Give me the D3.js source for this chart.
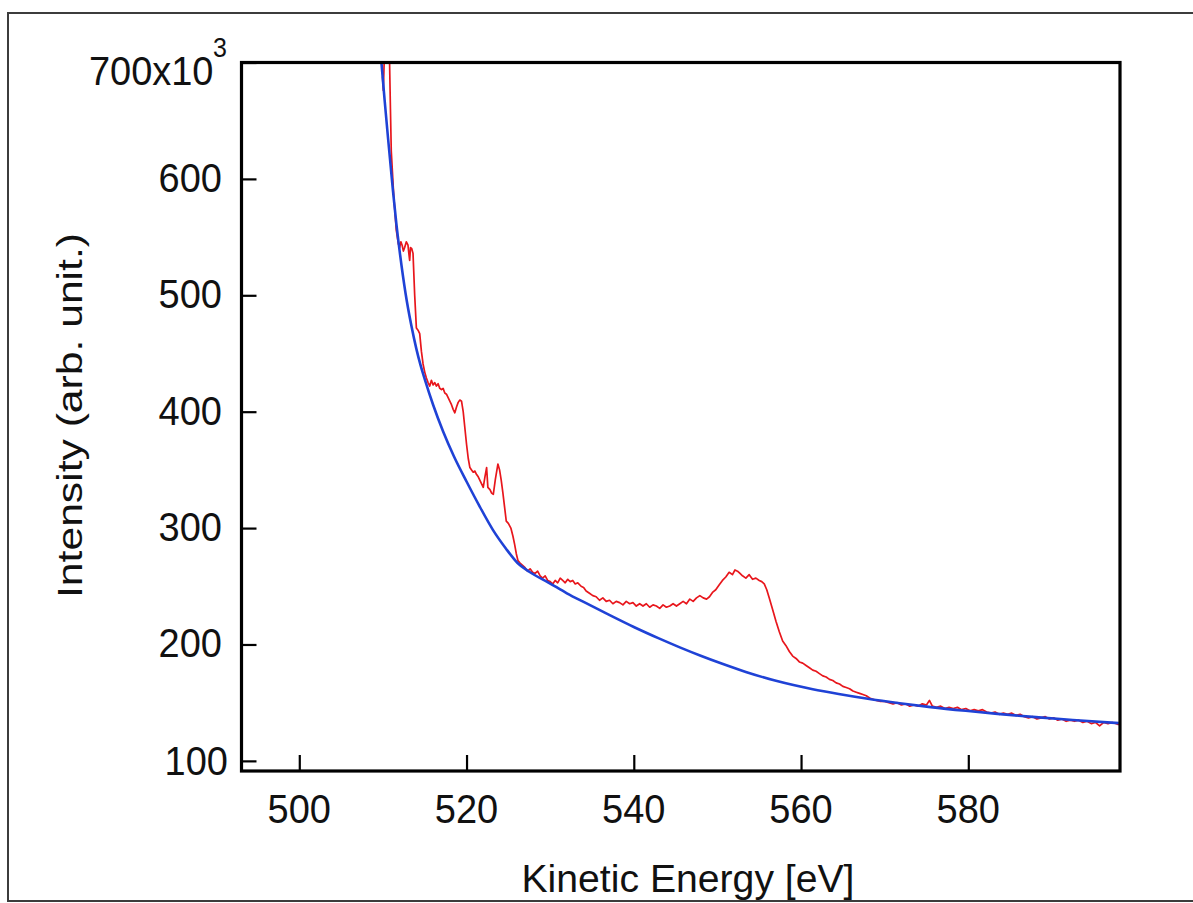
<!DOCTYPE html>
<html><head><meta charset="utf-8">
<script src="https://cdn.jsdelivr.net/npm/d3@7"></script>
<style>body{margin:0;background:#fff;} svg{display:block;}</style>
</head><body>
<svg id="chart" width="1193" height="903"></svg>
<script>
// ---- data (intensity in units of 10^3) ----
const energyMeasured = [
509.95,510.05,510.15,510.3,510.45,510.6,510.8,510.9,511.0,511.3,511.6,511.85,512.0,512.15,512.3,512.45,512.6,512.8,513.0,513.1,
513.2,513.3,513.45,513.6,513.8,514.0,514.2,514.4,514.6,514.8,515.0,515.2,515.4,515.6,515.8,516.0,516.2,516.4,516.6,516.8,
517.0,517.2,517.4,517.6,517.8,518.0,518.2,518.4,518.6,518.8,519.0,519.2,519.4,519.6,519.8,520.0,520.2,520.4,520.6,520.8,
521.0,521.2,521.4,521.6,521.8,522.0,522.2,522.4,522.55,522.8,523.0,523.2,523.45,523.75,523.95,524.15,524.35,524.55,524.75,525.0,
525.3,525.55,525.75,525.95,526.15,526.4,526.7,527.0,527.3,527.6,527.9,528.2,528.5,528.8,529.1,529.4,529.7,530.0,530.3,530.6,
530.9,531.2,531.5,531.8,532.1,532.4,532.7,533.0,533.3,533.7,534.0,534.3,534.7,535.1,535.5,535.9,536.3,536.7,537.1,537.5,
537.9,538.3,538.7,539.1,539.5,539.9,540.3,540.7,541.1,541.5,541.9,542.3,542.7,543.1,543.5,543.9,544.3,544.7,545.1,545.5,
545.9,546.3,546.7,547.1,547.5,547.9,548.3,548.7,549.05,549.45,549.8,550.2,550.6,551.0,551.4,551.8,552.1,552.4,552.7,553.0,
553.4,553.8,554.2,554.6,555.0,555.3,555.6,555.9,556.2,556.6,557.0,557.4,557.8,558.2,558.6,559.0,559.4,559.8,560.2,560.6,
561.0,561.4,561.8,562.2,562.6,563.0,563.4,563.8,564.2,564.6,565.0,565.4,565.8,566.2,566.6,567.0,567.4,567.8,568.2,568.6,
569.0,569.5,570.0,570.5,571.0,571.5,572.0,572.5,573.0,573.5,574.0,574.5,575.0,575.35,575.7,576.2,576.7,577.2,577.7,578.2,
578.7,579.2,579.7,580.2,580.7,581.2,581.7,582.2,582.7,583.2,583.7,584.2,584.7,585.2,585.7,586.2,586.7,587.2,587.7,588.2,
588.7,589.2,589.7,590.2,590.7,591.2,591.7,592.2,592.7,593.2,593.7,594.2,594.7,595.2,595.7,596.2,596.7,597.2,597.7,598.0
];
const intensityMeasured = [
688,676,700,715,702,712,699,660,624,585,556,544,541,546,543,538,541,546,543,536,
530,541,540,536,500,472,470,467,452,441,434,429,425,422,427,423,425,422,424,420,
419,420,416,415,412,409,406,402,399,404,408,410,409,400,386,372,360,352,350,348,
349,346,344,341,338,335,344,352,335,333,330,329,342,355,350,341,330,318,306,304,
300,293,286,278,272,270,268,266,263,265,262,261,263,259,257,259,255,254,252,255,
253,257,255,253,256,254,255,252,253,250,249,246,244,242,241,238,240,237,238,235,
237,236,234,237,235,236,233,235,233,235,232,234,233,231,234,232,233,235,233,235,
237,235,239,237,240,242,240,239,241,245,247,251,255,258,262,260,264,263,261,259,
257,260,256,257,255,254,252,247,240,230,220,211,203,199,194,190,188,185,184,182,
180,178,177,175,173,172,170,169,167,166,164,163,162,160,159,158,157,156,154,153,
152,151,151,150,149,150,148,149,147,148,147,149,148,152,147,146,147,145,146,145,
146,144,145,143,144,143,144,142,141,142,140,141,140,141,139,140,138,137,138,136,
137,138,136,137,135,136,134,135,134,135,133,134,132,133,130,133,132,133,132,131
];
const energyBackground = [
509.75,510.2,510.6,511.2,511.6,512.0,512.7,513.4,514.0,514.5,515.0,516.0,517.2,518.5,520.0,521.5,523.15,524.7,526.1,
527.5,529.9,532.0,534.3,537.0,540.0,543.0,545.5,548.0,550.5,553.4,557.0,561.4,564.5,567.8,571.8,575.5,579.7,583.5,587.7,592.5,598.0
];
const intensityBackground = [
706,668,636,590,562,538,502,474,454,440,428,406,383,361.5,340,319.5,298.5,282.5,270,
262.5,252.8,244,235.5,225.6,215,205.2,197.5,190.3,183.6,176.4,168.8,161.6,157.5,153.6,149.5,146.2,143,140.4,137.8,135.1,132.4
];
const xTickValues = [500,520,540,560,580];
const yTickValues = [100,200,300,400,500,600,700];
const yTickLabels = ["100","200","300","400","500","600","700x10"];
const xTitle = "Kinetic Energy [eV]";
const yTitle = "Intensity (arb. unit.)";

// ---- layout ----
const svg = d3.select("#chart");
const P = {left:241.5, right:1120, top:62.5, bottom:771};
const FONT = "'Liberation Sans', Arial, Helvetica, sans-serif";
const x = d3.scaleLinear().domain([493.09, 598.14]).range([P.left, P.right]);
const y = d3.scaleLinear().domain([91.3, 700]).range([P.bottom, P.top]);

svg.append("rect").attr("width",1193).attr("height",903).attr("fill","#fff");
// outer frame
svg.append("rect").attr("x",8).attr("y",13).attr("width",1200).attr("height",888)
  .attr("fill","none").attr("stroke","#3c3c3c").attr("stroke-width",2);

svg.append("clipPath").attr("id","plotclip").append("rect")
  .attr("x",P.left).attr("y",P.top).attr("width",P.right-P.left).attr("height",P.bottom-P.top);

const measured = energyMeasured.map((e,i)=>[e,intensityMeasured[i]]);
const background = energyBackground.map((e,i)=>[e,intensityBackground[i]]);

const g = svg.append("g").attr("clip-path","url(#plotclip)");
g.append("path").datum(measured)
  .attr("d", d3.line().x(d=>x(d[0])).y(d=>y(d[1])).curve(d3.curveLinear))
  .attr("fill","none").attr("stroke","#e8161c").attr("stroke-width",1.7).attr("stroke-linejoin","round");
g.append("path").datum(background)
  .attr("d", d3.line().x(d=>x(d[0])).y(d=>y(d[1])).curve(d3.curveMonotoneX))
  .attr("fill","none").attr("stroke","#1f42d6").attr("stroke-width",2.6);

// axes ticks (inward)
const xAxis = svg.append("g").attr("transform",`translate(0,${P.bottom})`)
  .call(d3.axisBottom(x).tickValues(xTickValues).tickSize(-16).tickSizeOuter(0).tickFormat(""));
const yAxis = svg.append("g").attr("transform",`translate(${P.left},0)`)
  .call(d3.axisLeft(y).tickValues(yTickValues).tickSize(-15).tickSizeOuter(0).tickFormat(""));
[xAxis,yAxis].forEach(a=>{
  a.select(".domain").remove();
  a.selectAll(".tick line").attr("stroke","#000").attr("stroke-width",2.2);
});

// frame
svg.append("rect").attr("x",P.left).attr("y",P.top).attr("width",P.right-P.left).attr("height",P.bottom-P.top)
  .attr("fill","none").attr("stroke","#000").attr("stroke-width",3.2);

// x tick labels
svg.append("g").selectAll("text").data(xTickValues).join("text")
  .attr("transform", d=>`translate(${x(d)},823) scale(1,1.08)`)
  .attr("text-anchor","middle").attr("font-family",FONT).attr("font-size",38).attr("fill","#111")
  .text(d=>d);

// y tick labels
svg.append("g").selectAll("text").data(yTickValues).join("text")
  .attr("transform", (d,i)=>{
    let xx = 222, yy = y(d)+13;
    if (d===100) { xx = 228; yy = y(d)+14; }
    if (d===700) { xx = 213.5; yy = 85; }
    return `translate(${xx},${yy}) scale(1,1.08)`;
  })
  .attr("text-anchor","end").attr("font-family",FONT).attr("font-size",38).attr("fill","#111")
  .text((d,i)=>yTickLabels[i]);
svg.append("text").attr("transform","translate(213,57) scale(1,1.08)")
  .attr("font-family",FONT).attr("font-size",25).attr("fill","#111").text("3");

// axis titles
svg.append("text").attr("x",688).attr("y",892).attr("text-anchor","middle")
  .attr("font-family",FONT).attr("font-size",38).attr("fill","#111")
  .attr("textLength",333).attr("lengthAdjust","spacingAndGlyphs").text(xTitle);
svg.append("text").attr("transform","translate(81.5,415.5) rotate(-90)").attr("text-anchor","middle")
  .attr("font-family",FONT).attr("font-size",35).attr("fill","#111")
  .attr("textLength",365).attr("lengthAdjust","spacingAndGlyphs").text(yTitle);
</script>
</body></html>
